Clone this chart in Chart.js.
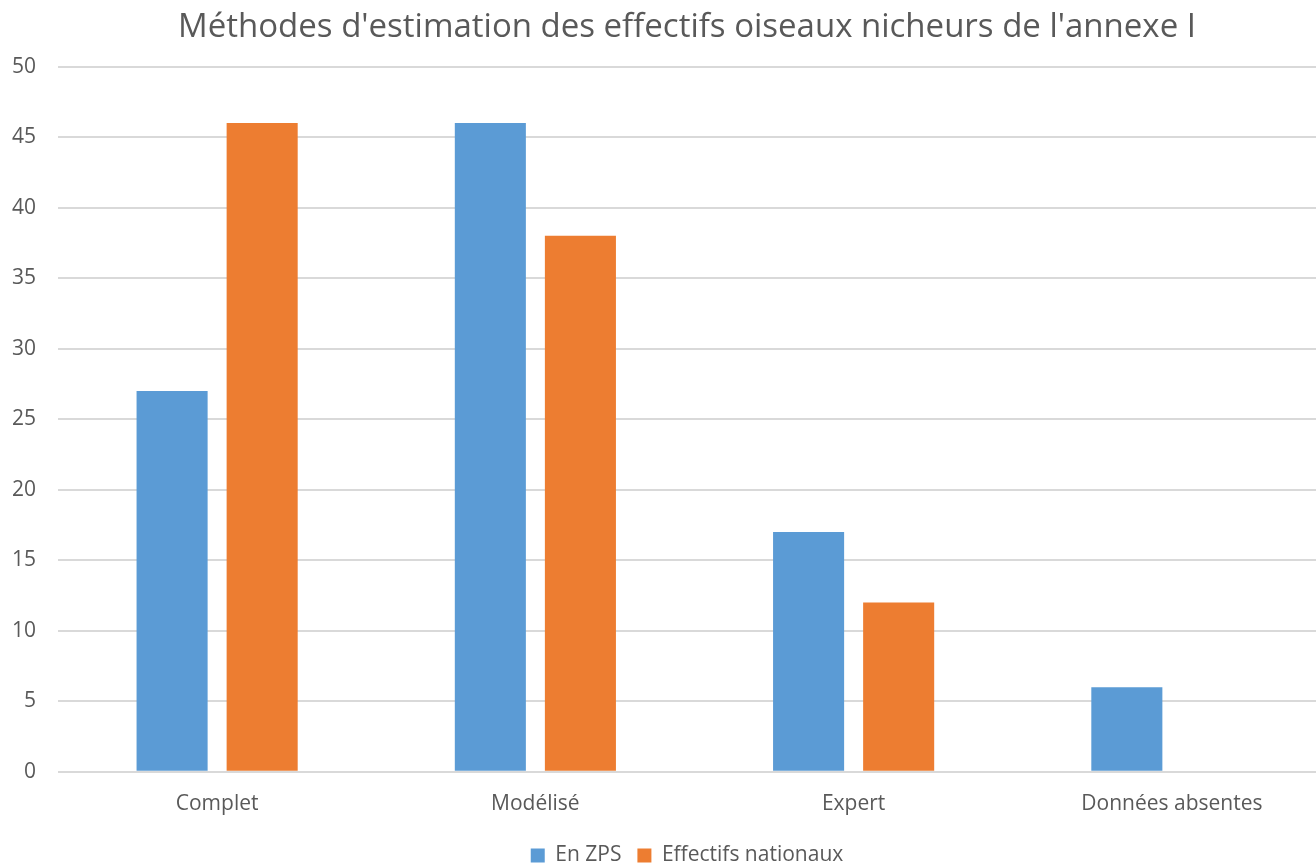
<!DOCTYPE html>
<html>
<head>
<meta charset="utf-8">
<script src="https://cdn.jsdelivr.net/npm/chart.js@4/dist/chart.umd.min.js"></script>
<style>
  html, body { margin: 0; padding: 0; background: #fff; overflow: hidden; }
  #wrap { width: 1316px; height: 864px; overflow: hidden; }
  #chart { display: block; }
</style>
</head>
<body>
<div id="wrap"><canvas id="chart" width="1331" height="864"></canvas></div>
<script>
const categories = ['Complet', 'Modélisé', 'Expert', 'Données absentes'];
const enZps = [27, 46, 17, 6];
const effectifsNationaux = [46, 38, 12, 0];
const seriesNames = ['En ZPS', 'Effectifs nationaux'];
const chartTitle = "Méthodes d'estimation des effectifs oiseaux nicheurs de l'annexe I";

const textColor = '#595959';
const fontFamily = "'Open Sans', 'Noto Sans', sans-serif";
const visibleWidth = 1316;

// the plot area runs a little past the right edge of the picture, so the
// title and legend are centred between the plot's left edge and the visible edge
const recentreBlocks = {
  id: 'recentreBlocks',
  afterLayout(chart) {
    const left = chart.chartArea.left;
    [chart.titleBlock, chart.legend].forEach(b => {
      if (!b) return;
      b.left = left;
      b.right = visibleWidth;
      b.width = visibleWidth - left;
    });
  }
};

const ctx = document.getElementById('chart').getContext('2d');
new Chart(ctx, {
  type: 'bar',
  data: {
    labels: categories,
    datasets: [
      { label: seriesNames[0], data: enZps, backgroundColor: '#5B9BD5' },
      { label: seriesNames[1], data: effectifsNationaux, backgroundColor: '#ED7D31' }
    ]
  },
  options: {
    responsive: false,
    animation: false,
    categoryPercentage: 0.566,
    barPercentage: 0.789,
    layout: { padding: { left: 0, right: 0, top: 0, bottom: -12 } },
    plugins: {
      title: {
        display: true,
        text: chartTitle,
        color: textColor,
        font: { family: fontFamily, size: 33, weight: 'normal' },
        padding: { top: 8, bottom: 19 }
      },
      legend: {
        position: 'bottom',
        labels: {
          color: textColor,
          font: { family: fontFamily, size: 21 },
          boxWidth: 14,
          boxHeight: 14,
          padding: 16
        }
      },
      tooltip: { enabled: false }
    },
    scales: {
      x: {
        grid: { display: false },
        border: { display: false },
        ticks: {
          color: textColor,
          font: { family: fontFamily, size: 21 },
          padding: 12
        }
      },
      y: {
        min: 0,
        max: 50,
        ticks: {
          stepSize: 5,
          color: textColor,
          font: { family: fontFamily, size: 21 },
          padding: 22
        },
        grid: { color: '#d9d9d9', lineWidth: 2, drawTicks: false },
        border: { display: false },
        afterFit: function (scale) { scale.width = 58; }
      }
    }
  },
  plugins: [recentreBlocks]
});
</script>
</body>
</html>
